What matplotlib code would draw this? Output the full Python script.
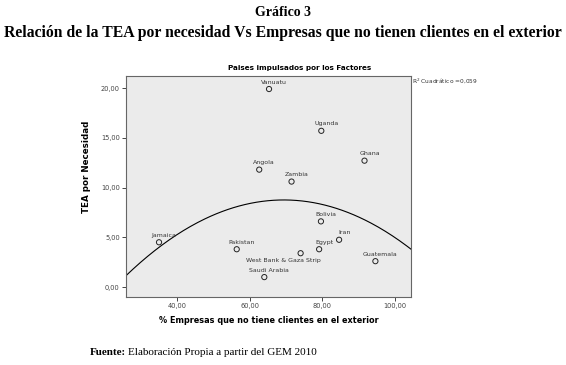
import numpy as np
import matplotlib.pyplot as plt

# datos
paises = ['Vanuatu', 'Uganda', 'Ghana', 'Angola', 'Zambia', 'Jamaica', 'Pakistan',
          'West Bank & Gaza Strip', 'Saudi Arabia', 'Egypt', 'Iran', 'Bolivia', 'Guatemala']
empresas = [65.3, 79.7, 91.6, 62.6, 71.5, 35.0, 56.4, 74.0, 64.0, 79.1, 84.6, 79.6, 94.6]
tea = [19.9, 15.7, 12.7, 11.8, 10.6, 4.5, 3.8, 3.4, 1.0, 3.8, 4.75, 6.6, 2.6]
xticks = [40, 60, 80, 100]
yticks = [0, 5, 10, 15, 20]

# desplazamiento de las etiquetas (pixeles)
offsets = {'West Bank & Gaza Strip': (-17, -7)}

fig = plt.figure(figsize=(5.66, 3.65), dpi=100)
ax = fig.add_axes([0.2226, 0.1863, 0.5035, 0.6066])
ax.set_facecolor('#ebebeb')

ax.scatter(empresas, tea, s=14, facecolors='none', edgecolors='#222222', linewidths=0.7, zorder=3)
for p, x, y in zip(paises, empresas, tea):
    dx, dy = offsets.get(p, (5, 7))
    ax.annotate(p, (x, y), xytext=(dx, dy), textcoords='offset pixels',
                ha='center', va='center', fontsize=4.5, color='#333333')

# ajuste cuadratico
coef = np.polyfit(empresas, tea, 2)
xs = np.linspace(25.9, 104.4, 200)
ax.plot(xs, np.polyval(coef, xs), color='black', linewidth=0.8)

ax.set_xlim(25.9, 104.4)
ax.set_ylim(-1, 21.25)
ax.set_xticks(xticks)
ax.set_yticks(yticks)
ax.set_xticklabels(['%d,00' % v for v in xticks])
ax.set_yticklabels(['%d,00' % v for v in yticks])
ax.tick_params(direction='out', length=3, width=0.7, labelsize=4.8, colors='#444444', pad=1.5)
for s in ax.spines.values():
    s.set_color('#666666')
    s.set_linewidth(0.8)

ax.text(0.61, 1.035, 'Paises impulsados por los Factores', transform=ax.transAxes,
        fontsize=5.2, fontweight='bold', ha='center', va='center')
ax.set_xlabel('% Empresas que no tiene clientes en el exterior', fontsize=5.9, fontweight='bold', labelpad=5)
ax.set_ylabel('TEA por Necesidad', fontsize=6.3, fontweight='bold')
ax.yaxis.set_label_coords(-0.122, 0.59)
ax.text(1.002, 0.975, 'R$^2$ Cuadrático =0,059', transform=ax.transAxes, fontsize=4.2,
        color='#333333', ha='left', va='center')

fig.text(0.5, 0.967, 'Gráfico 3', ha='center', va='center', family='Liberation Serif',
         fontweight='bold', fontsize=10)
fig.text(0.5, 0.91, 'Relación de la TEA por necesidad Vs Empresas que no tienen clientes en el exterior',
         ha='center', va='center', family='Liberation Serif', fontweight='bold', fontsize=11.3)
fig.text(0.159, 0.033, 'Fuente:', ha='left', va='center', family='Liberation Serif',
         fontweight='bold', fontsize=8)
fig.text(0.226, 0.033, 'Elaboración Propia a partir del GEM 2010', ha='left', va='center',
         family='Liberation Serif', fontsize=8)

fig.savefig('out.png', dpi=100)
